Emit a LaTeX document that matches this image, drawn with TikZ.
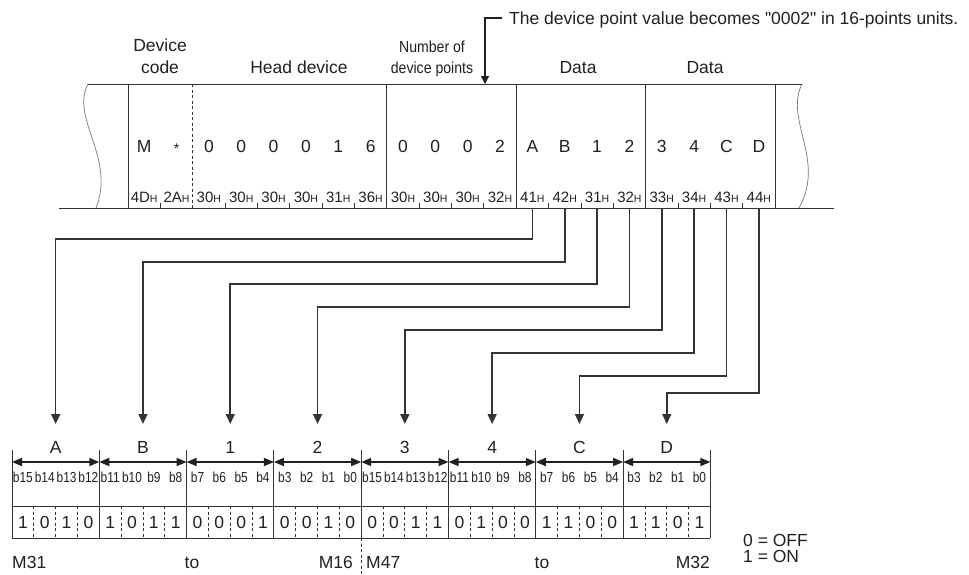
\documentclass[tikz,border=0pt]{standalone}
\usepackage{fontspec}
\setmainfont{Liberation Sans}[Ligatures=TeXOff]
\usetikzlibrary{arrows.meta,calc}
\definecolor{ink}{HTML}{231F20}
\definecolor{frame}{HTML}{333333}
\definecolor{wave}{HTML}{777777}
\newcommand{\hexlab}[1]{{\fontsize{15}{14}\selectfont #1}{\fontsize{10.5}{10}\selectfont H}}
\newcommand{\bitlab}[1]{\scalebox{0.82}[1]{\fontsize{14.5}{14}\selectfont #1}}
\tikzset{
  txt/.style={inner sep=0pt, anchor=base, text=ink, font=\fontsize{17.5}{18}\selectfont},
  smalltxt/.style={inner sep=0pt, anchor=base, text=ink},
  frm/.style={draw=frame, line width=1pt},
  wav/.style={draw=wave, line width=0.7pt},
  conn/.style={draw=frame, line width=1.6pt, -{Triangle[length=10pt,width=9pt]}},
  dbl/.style={draw=ink, line width=1.5pt, {Triangle[length=10pt,width=8pt]}-{Triangle[length=10pt,width=8pt]}},
  tick/.style={draw=frame, line width=0.8pt},
  dsh/.style={draw=frame, line width=0.8pt, dash pattern=on 3pt off 2.5pt}
}
\begin{document}
\begin{tikzpicture}[x=1pt,y=-1pt]
\useasboundingbox (0,0) rectangle (969,574);
% ---------- note ----------
\coordinate (nstart) at (502,18);
\coordinate (ncorner) at (485,18);
\coordinate (ntip) at (485,84);
\draw[draw=ink, line width=1.2pt, -{Triangle[length=8pt,width=8pt]}] (nstart) -- (ncorner) -- (ntip);
\node[txt, anchor=base west] (note) at (509,24) {The device point value becomes "0002" in 16-points units.};
% ---------- headers ----------
\node[txt] (hdev1) at (160,51) {Device};
\node[txt] (hdev2) at (160,73) {code};
\node[txt] (hhead) at (299,73) {Head device};
\node[smalltxt] (hnum1) at (432,52) {\scalebox{0.88}[1]{\fontsize{16}{16}\selectfont Number of}};
\node[smalltxt] (hnum2) at (432,73) {\scalebox{0.88}[1]{\fontsize{16}{16}\selectfont device points}};
\node[txt] (hdata1) at (578,73) {Data};
\node[txt] (hdata2) at (705,73) {Data};
% ---------- frame ----------
\coordinate (tl) at (88,84);
\coordinate (tr) at (802,84);
\coordinate (bl) at (59,208);
\coordinate (br) at (834,208);
\draw[frm] (tl) -- (tr);
\draw[frm] (bl) -- (br);
\coordinate (wl) at (96,208);
\coordinate (wr) at (799,208);
\draw[wav] (tl) .. controls (70,118) and (116,158) .. (wl);
\draw[wav] (tr) .. controls (784,120) and (826,160) .. (wr);
\foreach \k in {0,...,20} {
  \coordinate (ct\k) at ({128+32.35*\k},84);
  \coordinate (cb\k) at ({128+32.35*\k},208);
}
\foreach \k in {0,8,12,16,20} \draw[frm] (ct\k) -- (cb\k);
\draw[dsh] (ct2) -- (cb2);
\foreach \k in {1,3,4,5,6,7,9,10,11,13,14,15,17,18,19} \draw[tick] (cb\k) -- ++(0,-5);
% characters
\foreach \ch [count=\k from 0] in {M,x,0,0,0,0,1,6,0,0,0,2,A,B,1,2,3,4,C,D} {
  \ifnum\k=1
    \node[smalltxt, font=\fontsize{14}{14}\selectfont] (ch\k) at ({128+32.35*(\k+0.5)},153) {*};
  \else
    \node[txt] (ch\k) at ({128+32.35*(\k+0.5)},152) {\ch};
  \fi
}
\foreach \hv [count=\k from 0] in {4D,2A,30,30,30,30,31,36,30,30,30,32,41,42,31,32,33,34,43,44}
  \node[smalltxt] (hx\k) at ({128+32.35*(\k+0.5)},202) {\hexlab{\hv}};
% ---------- bottom table ----------
\foreach \j in {0,...,8} {
  \coordinate (nt\j) at ({12+87.3*\j},450);
  \coordinate (na\j) at ({12+87.3*\j},462);
  \coordinate (nb\j) at ({12+87.3*\j},538);
  \draw[frm] (nt\j) -- (nb\j);
}
\foreach \j [evaluate=\j as \jj using int(\j+1)] in {0,...,7}
  \draw[dbl] (na\j) -- (na\jj);
\coordinate (rowl) at (12,506);
\coordinate (rowr) at (710.4,506);
\draw[frm] (rowl) -- (rowr);
\draw[frm] (nb0) -- (nb8);
\foreach \L [count=\j from 0] in {A,B,1,2,3,4,C,D}
  \node[txt] (nl\j) at ({12+87.3*(\j+0.5)},453) {\L};
% bit labels
\foreach \b [count=\i from 0] in {b15,b14,b13,b12,b11,b10,b9,b8,b7,b6,b5,b4,b3,b2,b1,b0,b15,b14,b13,b12,b11,b10,b9,b8,b7,b6,b5,b4,b3,b2,b1,b0}
  \node[smalltxt] (bl\i) at ({12+21.825*(\i+0.5)},482) {\bitlab{\b}};
% bit values
\foreach \v [count=\i from 0] in {1,0,1,0,1,0,1,1,0,0,0,1,0,0,1,0,0,0,1,1,0,1,0,0,1,1,0,0,1,1,0,1}
  \node[txt] (bv\i) at ({12+21.825*(\i+0.5)},528) {\v};
\foreach \i in {1,2,3,5,6,7,9,10,11,13,14,15,17,18,19,21,22,23,25,26,27,29,30,31} {
  \coordinate (dt\i) at ({12+21.825*\i},506);
  \coordinate (db\i) at ({12+21.825*\i},538);
  \draw[dsh] (dt\i) -- (db\i);
}
% split line
\coordinate (sp1) at ({12+87.3*4},538);
\coordinate (sp2) at ({12+87.3*4},574);
\draw[dsh] (sp1) -- (sp2);
% range labels
\node[txt, anchor=base west] (m31) at (12,568) {M31};
\node[txt] (to1) at (192,568) {to};
\node[txt, anchor=base east] (m16) at (353,568) {M16};
\node[txt, anchor=base west] (m47) at (366,568) {M47};
\node[txt] (to2) at (542,568) {to};
\node[txt, anchor=base east] (m32) at (710,568) {M32};
\node[txt, anchor=base west] (off) at (743,546) {0 = OFF};
\node[txt, anchor=base west] (on) at (743,562) {1 = ON};
% ---------- connectors ----------
\foreach \j in {0,...,7}
  \coordinate (tg\j) at ({12+87.3*(\j+0.5)},424);
\foreach \k/\j/\ty in {12/0/239,13/1/262,14/2/284,15/3/307,16/4/330,17/5/353,18/6/376,19/7/393}
  \draw[conn] (cb\k) ++(16.175,0) coordinate (src\k) -- ++(0,{\ty-208}) -| (tg\j);
\end{tikzpicture}
\end{document}
